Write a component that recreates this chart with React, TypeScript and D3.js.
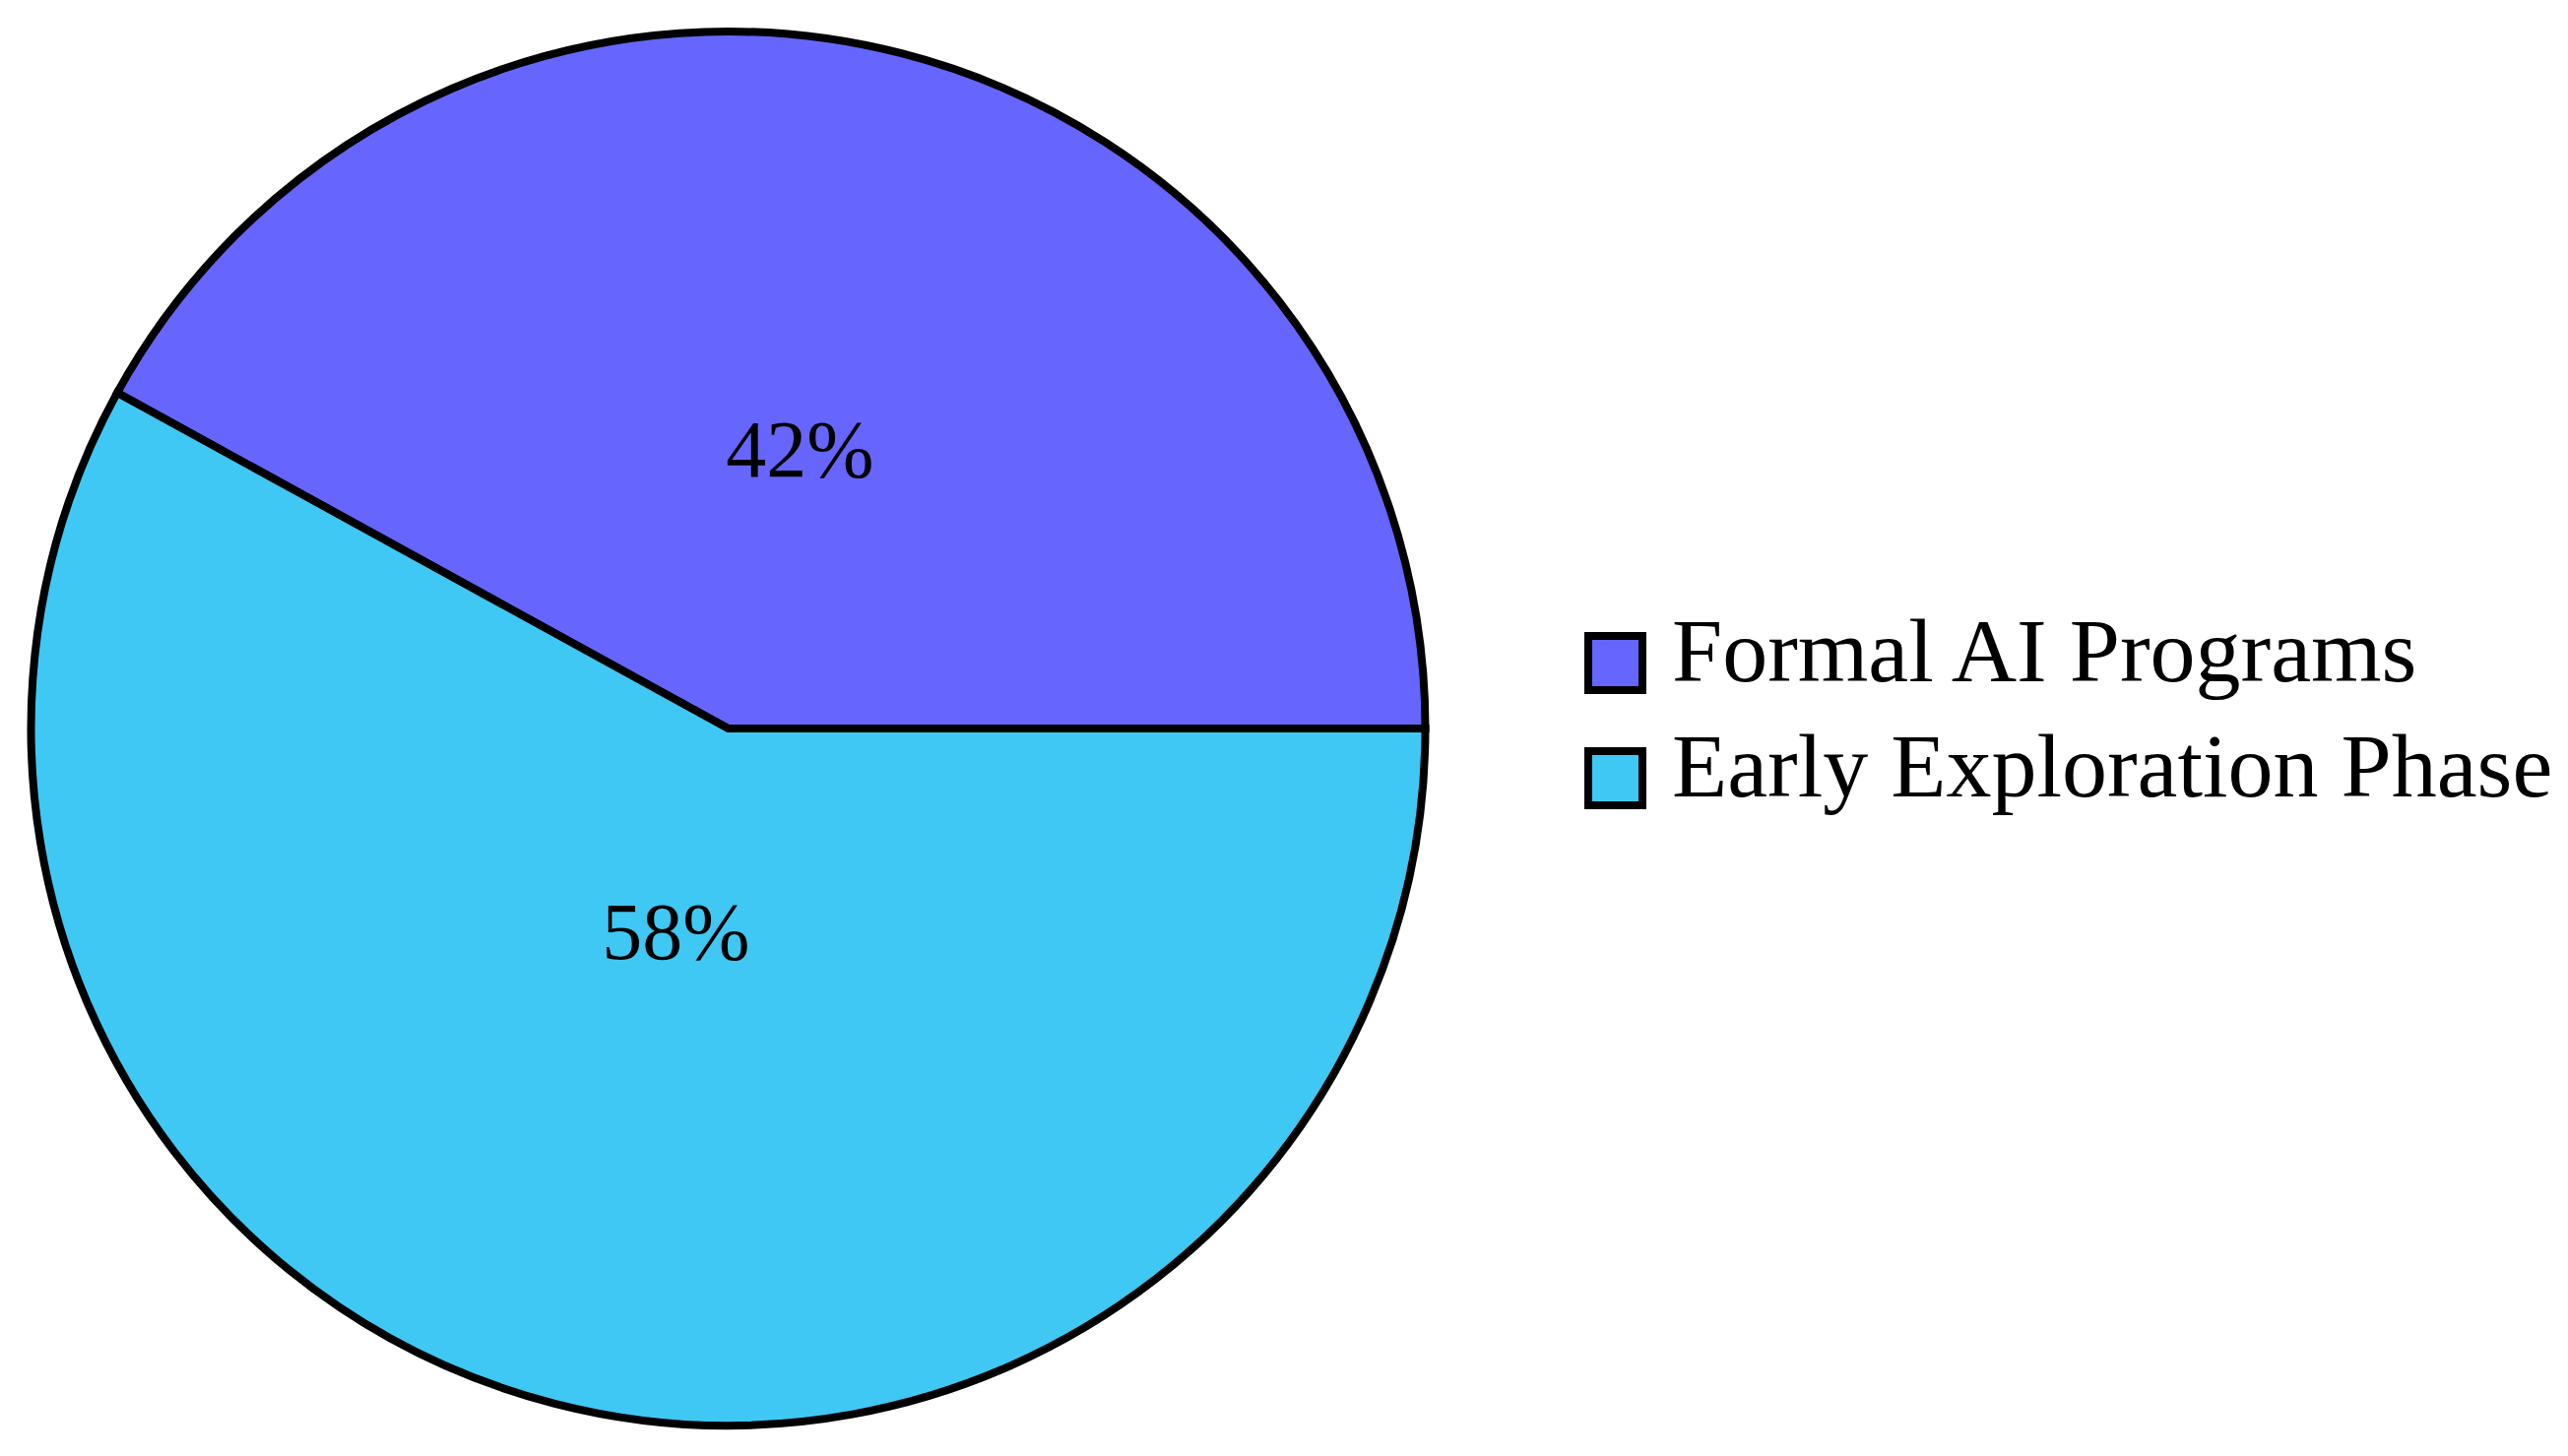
import React from "react";
import * as d3 from "d3";

const categories = ["Formal AI Programs", "Early Exploration Phase"];
const values = [42, 58];
const colors = ["#6666ff", "#40c8f4"];
const labelRadiusFactor = [0.414, 0.301];

const W = 2608;
const H = 1479;
const cx = 739.5;
const cy = 740;
const R = 708;

export default function App() {
  const pie = d3
    .pie<number>()
    .sort(null)
    .startAngle(Math.PI / 2)
    .endAngle(Math.PI / 2 - 2 * Math.PI)
    .value((d) => d);
  const arcs = pie(values);
  const arc = d3.arc<d3.PieArcDatum<number>>().innerRadius(0).outerRadius(R);
  const total = d3.sum(values);

  const legendY = d3.scaleBand<string>().domain(categories).range([646, 646 + 117 * 2]).paddingInner(0);

  return (
    <svg
      width={W}
      height={H}
      style={{ position: "absolute", left: 0, top: 0, background: "#fff" }}
      fontFamily="'Liberation Serif', serif"
    >
      <rect x={0} y={0} width={W} height={H} fill="#fff" />
      <g transform={`translate(${cx},${cy})`}>
        {arcs.map((a, i) => (
          <path key={i} d={arc(a) || ""} fill={colors[i]} stroke="#000" strokeWidth={8} strokeLinejoin="miter" />
        ))}
        {arcs.map((a, i) => {
          const mid = (a.startAngle + a.endAngle) / 2;
          const rr = R * labelRadiusFactor[i];
          const x = rr * Math.sin(mid);
          const y = -rr * Math.cos(mid);
          return (
            <text key={i} x={x} y={y + 28} textAnchor="middle" fontSize={82} fill="#000">
              {`${Math.round((a.value / total) * 100)}%`}
            </text>
          );
        })}
      </g>
      <g>
        {categories.map((c, i) => {
          const y = legendY(c) as number;
          return (
            <g key={c}>
              <rect x={1613} y={y} width={55} height={55} fill={colors[i]} stroke="#000" strokeWidth={8} />
              <text x={1698} y={y + 46} fontSize={92} fill="#000">
                {c}
              </text>
            </g>
          );
        })}
      </g>
    </svg>
  );
}
